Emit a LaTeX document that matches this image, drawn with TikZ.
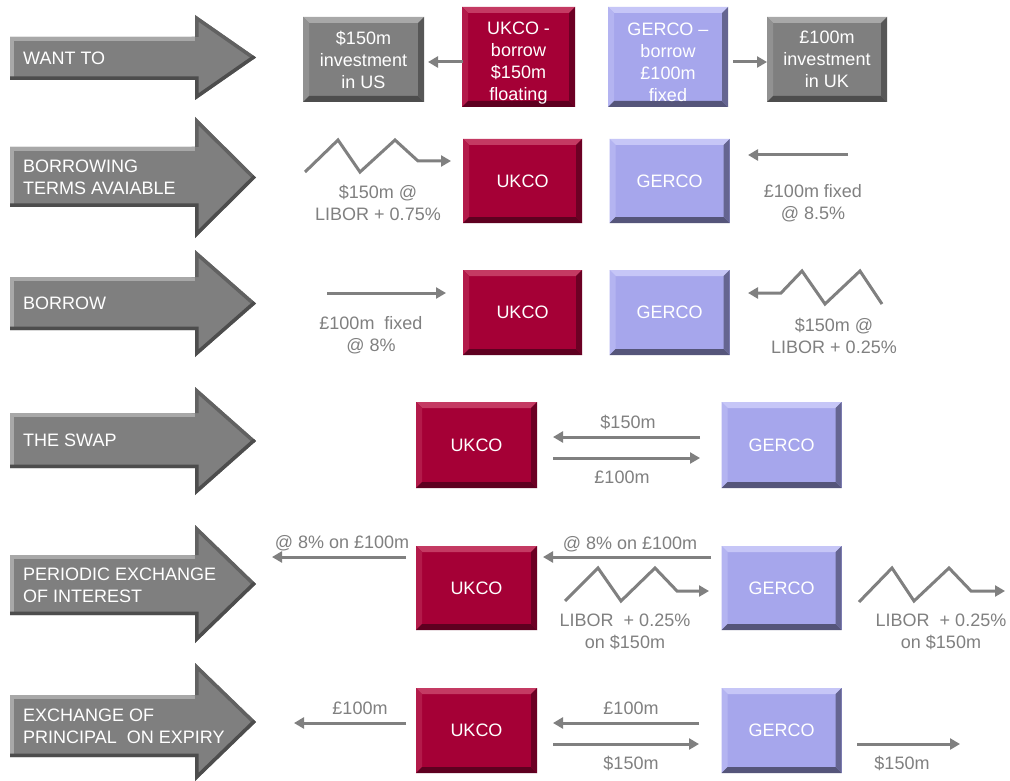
\documentclass[tikz,border=0pt]{standalone}
\usepackage{fontspec}
\setmainfont{Liberation Sans}
\usetikzlibrary{arrows.meta}
\definecolor{ukbase}{HTML}{A50036}
\definecolor{uklight}{HTML}{C43A63}
\definecolor{ukdark}{HTML}{5E0020}
\definecolor{gebase}{HTML}{A6A6EC}
\definecolor{gelight}{HTML}{C6C6F7}
\definecolor{gedark}{HTML}{55557A}
\definecolor{grbase}{HTML}{7F7F7F}
\definecolor{grlight}{HTML}{A8A8A8}
\definecolor{grdark}{HTML}{4D4D4D}
\definecolor{lc}{HTML}{808080}
\tikzset{
  fs/.style={font=\fontsize{18}{22}\selectfont},
  bev/.style n args={3}{draw=none, fill=#1, text=white, align=center, inner sep=0pt, fs,
    path picture={
      \path (path picture bounding box.north west) coordinate (bvnw)
            (path picture bounding box.north east) coordinate (bvne)
            (path picture bounding box.south west) coordinate (bvsw)
            (path picture bounding box.south east) coordinate (bvse);
      \fill[#2] (bvnw) -- (bvne) -- ([shift={(-6pt,-6pt)}]bvne) -- ([shift={(6pt,-6pt)}]bvnw) -- cycle;
      \fill[#2!45!#1] (bvnw) -- ([shift={(6pt,-6pt)}]bvnw) -- ([shift={(6pt,6pt)}]bvsw) -- (bvsw) -- cycle;
      \fill[#3] (bvsw) -- (bvse) -- ([shift={(-6pt,6pt)}]bvse) -- ([shift={(6pt,6pt)}]bvsw) -- cycle;
      \fill[#3!80!#1] (bvne) -- (bvse) -- ([shift={(-6pt,6pt)}]bvse) -- ([shift={(-6pt,-6pt)}]bvne) -- cycle;
    }},
  ukbox/.style={bev={ukbase}{uklight}{ukdark}, minimum width=121pt, minimum height=85pt},
  gebox/.style={bev={gebase}{gelight}{gedark}, minimum width=120pt, minimum height=85pt},
  grbox/.style={bev={grbase}{grlight}{grdark}, minimum width=121pt, minimum height=85pt},
  conn/.style={draw=lc, line width=3pt, -{Triangle[length=10pt,width=11pt]}},
  lbl/.style={text=lc, fs, align=center, inner sep=0pt},
  arrtxt/.style={text=white, fs, align=left, anchor=west, inner sep=0pt},
}
\newcommand\BigArr[6]{%
  \pgfmathsetmacro\tipy{(#4+#5)/2}%
  \fill[grbase] (10,#2) -- (195,#2) -- (195,#4) -- (256,\tipy) -- (195,#5) -- (195,#3) -- (10,#3) -- cycle;
  \begin{scope}
    \clip (10,#2) -- (195,#2) -- (195,#4) -- (256,\tipy) -- (195,#5) -- (195,#3) -- (10,#3) -- cycle;
    \draw[line width=8pt, grlight] (10,#3) -- (10,#2) -- (195,#2);
    \draw[line width=7pt, grdark!60!grbase] (195,#2) -- (195,#4) -- (256,\tipy);
    \draw[line width=7pt, grdark] (256,\tipy) -- (195,#5) -- (195,#3) -- (10,#3);
  \end{scope}
  \node[arrtxt] (#1) at (23,{(#2+#3)/2}) {#6};
}
\begin{document}
\begin{tikzpicture}[x=1pt,y=-1pt]
\fill[white] (0,0) rectangle (1010,781);
\useasboundingbox (0,0) rectangle (1010,781);

% big arrows
\BigArr{a1}{37}{80}{15}{100}{WANT TO}
\BigArr{a2}{147}{207}{117}{238}{BORROWING\\TERMS AVAIABLE}
\BigArr{a3}{277}{330}{250}{357}{BORROW}
\BigArr{a4}{413}{468}{387}{495}{THE SWAP}
\BigArr{a5}{555}{615}{525}{643}{PERIODIC EXCHANGE\\OF INTEREST}
\BigArr{a6}{695}{757}{663}{781}{EXCHANGE OF\\PRINCIPAL\ \ ON EXPIRY}

% row 1
\node[grbox] (g1) at (363.5,59.5) {\rule{0pt}{15pt}\$150m\\investment\\in US};
\node[ukbox, minimum width=113pt, minimum height=100pt] (u1) at (518.5,57) {\rule{0pt}{25pt}UKCO -\\borrow\\\$150m\\floating};
\node[gebox, minimum height=100pt] (e1) at (668,57) {\rule{0pt}{23pt}GERCO –\\borrow\\£100m\\fixed};
\node[grbox, minimum width=120pt] (g2) at (827,59.5) {£100m\\investment\\in UK};
\coordinate (r1a) at (463,62); \coordinate (r1b) at (428,62);
\coordinate (r1c) at (733,62); \coordinate (r1d) at (767,62);
\draw[conn] (r1a) -- (r1b);
\draw[conn] (r1c) -- (r1d);

% row 2
\node[ukbox, minimum width=119pt, minimum height=84pt] (u2) at (522.5,181) {UKCO};
\node[gebox, minimum height=84pt] (e2) at (669.5,181) {GERCO};
\coordinate (z2s) at (305,172); \coordinate (z2e) at (451,161);
\draw[conn] (z2s) -- (338,140) -- (360,172) -- (395,140) -- (418,161) -- (z2e);
\node[lbl] (l2a) at (378,203) {\$150m @\\LIBOR + 0.75\%};
\coordinate (r2a) at (848,155); \coordinate (r2b) at (748,155);
\draw[conn] (r2a) -- (r2b);
\node[lbl] (l2b) at (813,203) {£100m fixed\\@ 8.5\%};

% row 3
\node[ukbox, minimum width=119pt] (u3) at (522.5,312.5) {UKCO};
\node[gebox] (e3) at (669.5,312.5) {GERCO};
\coordinate (r3a) at (327,293); \coordinate (r3b) at (446,293);
\draw[conn] (r3a) -- (r3b);
\node[lbl] (l3a) at (371,335) {£100m\ \ fixed\\@ 8\%};
\coordinate (z3s) at (882,304); \coordinate (z3e) at (748,293);
\draw[conn] (z3s) -- (860,271) -- (825,304) -- (802,271) -- (781,293) -- (z3e);
\node[lbl] (l3b) at (834,336) {\$150m @\\LIBOR + 0.25\%};

% row 4
\node[ukbox, minimum height=86pt] (u4) at (476.5,445) {UKCO};
\node[gebox, minimum height=86pt] (e4) at (781.5,445) {GERCO};
\coordinate (r4a) at (700,437); \coordinate (r4b) at (553,437);
\coordinate (r4c) at (553,458); \coordinate (r4d) at (700,458);
\draw[conn] (r4a) -- (r4b);
\draw[conn] (r4c) -- (r4d);
\node[lbl] (l4a) at (628,422) {\$150m};
\node[lbl] (l4b) at (622,477) {£100m};

% row 5
\node[ukbox, minimum height=84pt] (u5) at (476.5,588) {UKCO};
\node[gebox, minimum height=84pt] (e5) at (781.5,588) {GERCO};
\coordinate (r5a) at (711,557); \coordinate (r5b) at (543,557);
\draw[conn] (r5a) -- (r5b);
\node[lbl] (l5a) at (630,544) {@ 8\% on £100m};
\coordinate (z5s) at (565,601); \coordinate (z5e) at (709,591);
\draw[conn] (z5s) -- (598,568) -- (621,601) -- (655,568) -- (677,591) -- (z5e);
\node[lbl] (l5b) at (625,631.5) {LIBOR\ \ + 0.25\%\\on \$150m};
\coordinate (r5c) at (406,557); \coordinate (r5d) at (272,557);
\draw[conn] (r5c) -- (r5d);
\node[lbl] (l5c) at (342,543) {@ 8\% on £100m};
\coordinate (z5t) at (859,602); \coordinate (z5f) at (1005,591);
\draw[conn] (z5t) -- (892,568) -- (914,601) -- (949,568) -- (971,591) -- (z5f);
\node[lbl] (l5d) at (941,631.5) {LIBOR\ \ + 0.25\%\\on \$150m};

% row 6
\node[ukbox] (u6) at (476.5,730.5) {UKCO};
\node[gebox] (e6) at (781.5,730.5) {GERCO};
\coordinate (r6a) at (406,723); \coordinate (r6b) at (294,723);
\draw[conn] (r6a) -- (r6b);
\node[lbl] (l6a) at (360,708) {£100m};
\coordinate (r6c) at (699,723); \coordinate (r6d) at (553,723);
\draw[conn] (r6c) -- (r6d);
\node[lbl] (l6b) at (631,708) {£100m};
\coordinate (r6e) at (553,744); \coordinate (r6f) at (699,744);
\draw[conn] (r6e) -- (r6f);
\node[lbl] (l6c) at (631,763) {\$150m};
\coordinate (r6g) at (857,744); \coordinate (r6h) at (960,744);
\draw[conn] (r6g) -- (r6h);
\node[lbl] (l6d) at (902,763) {\$150m};
\end{tikzpicture}
\end{document}
